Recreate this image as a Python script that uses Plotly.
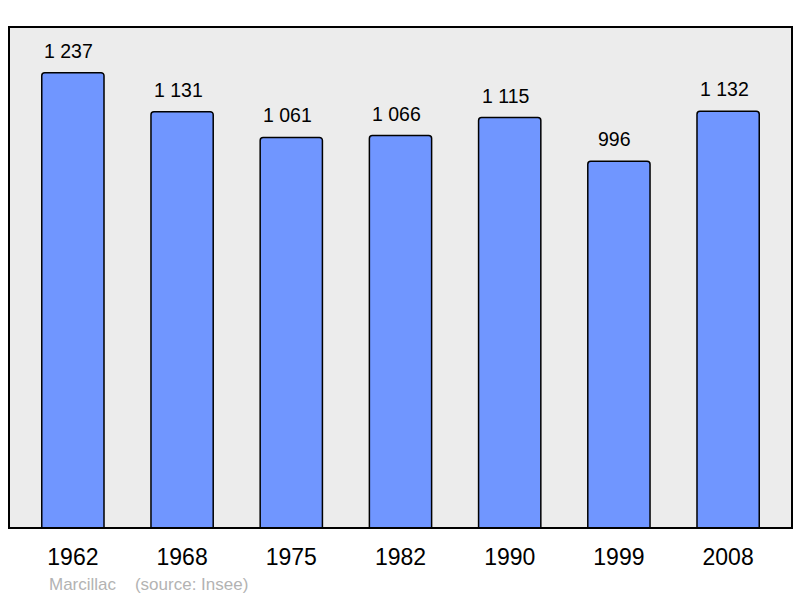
import plotly.graph_objects as go

years = ["1962", "1968", "1975", "1982", "1990", "1999", "2008"]
population = [1237, 1131, 1061, 1066, 1115, 996, 1132]
commune = "Marcillac"
source = "(source: Insee)"

W, H = 800, 598
L, R, T, B = 9, 8, 27, 70

def fmt(v):
    return f"{v:,}".replace(",", " ")

fig = go.Figure()
fig.add_trace(go.Bar(
    x=years, y=population, width=0.57,
    marker=dict(color="#7096ff", line=dict(color="black", width=1.5), cornerradius=3),
    hoverinfo="skip",
))

pw = W - L - R
ph = H - T - B

annotations = [
    dict(x=i, y=v, text=fmt(v), showarrow=False, xref="x", yref="y",
         yanchor="bottom", yshift=9, xshift=-4, font=dict(size=19.5, color="black"))
    for i, v in enumerate(population)
]
annotations.append(dict(
    x=(47 - L) / pw, y=(H - B - 584) / ph, xref="paper", yref="paper",
    xanchor="left", yanchor="middle", showarrow=False,
    text=f"{commune}&nbsp;&nbsp;&nbsp;&nbsp;{source}",
    font=dict(size=17, color="#b3b3b3"),
))

fig.update_layout(
    width=W, height=H,
    margin=dict(l=L, r=R, t=T, b=B, pad=0),
    paper_bgcolor="white", plot_bgcolor="#ececec",
    font=dict(family="Liberation Sans, Arial, sans-serif", color="black"),
    showlegend=False,
    annotations=annotations,
    shapes=[dict(type="rect", xref="paper", yref="paper", x0=0, x1=1, y0=0, y1=1,
                 line=dict(color="black", width=2), layer="above")],
    xaxis=dict(type="category", range=[-0.585, 6.585], showgrid=False, zeroline=False,
               ticks="outside", ticklen=8, tickcolor="rgba(0,0,0,0)",
               tickfont=dict(size=23, color="black"), fixedrange=True),
    yaxis=dict(range=[0, 1361], showgrid=False, zeroline=False,
               showticklabels=False, fixedrange=True),
)

fig.write_html("out.html", config={"displayModeBar": False},
               post_script="document.body.style.margin='0';")
